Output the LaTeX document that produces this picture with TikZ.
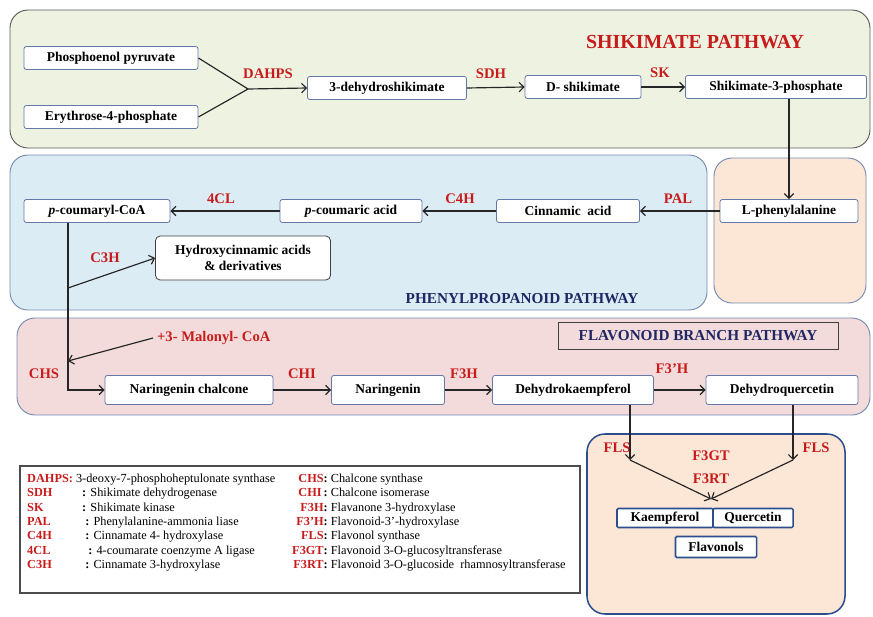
\documentclass[tikz,border=0pt]{standalone}
\usepackage{fontspec}
\setmainfont{Liberation Serif}
\usetikzlibrary{arrows.meta,positioning}
\newlength\pxu
\setlength\pxu{0.03cm}
\definecolor{shikfill}{RGB}{237,242,225}
\definecolor{phenfill}{RGB}{220,236,244}
\definecolor{pheframe}{RGB}{118,138,178}
\definecolor{peach}{RGB}{252,231,215}
\definecolor{flavfill}{RGB}{243,219,219}
\definecolor{enzred}{RGB}{200,28,28}
\definecolor{navy}{RGB}{32,40,100}
\definecolor{boxblue}{RGB}{100,120,170}
\definecolor{deepblue}{RGB}{45,78,140}
\tikzset{
  stepbox/.style={draw=boxblue, fill=white, rounded corners=2pt, line width=0.7pt,
    font=\fontsize{11.5}{13}\selectfont\bfseries, minimum height=23\pxu, inner sep=1pt},
  enz/.style={text=enzred, font=\fontsize{12.5}{14}\selectfont\bfseries},
  panel/.style={rounded corners=18\pxu, line width=0.8pt},
  flow/.style={-{Straight Barb[length=4pt,width=8pt,line width=1pt]}, line width=1pt, black!85},
  title/.style={text=navy, font=\fontsize{13}{15}\selectfont\bfseries},
}

\begin{document}
\begin{tikzpicture}[x=\pxu, y=-\pxu]
      \useasboundingbox (0,0) rectangle (873,616);
      % panels
      \draw[panel, draw=black!65, fill=shikfill] (10,10) rectangle (870,148);
      \draw[panel, draw=pheframe, fill=phenfill] (10,155) rectangle (707,310);
      \draw[panel, draw=pheframe, fill=peach] (714,158) rectangle (866,303);
      \draw[panel, draw=pheframe, fill=flavfill] (17,318) rectangle (870,415);
      \draw[panel, draw=deepblue, line width=1.3pt, fill=peach] (587,434) rectangle (845,614);
      % titles
      \node[text=enzred, font=\fontsize{17}{19}\selectfont\bfseries] (shtitle) at (695,42) {SHIKIMATE PATHWAY};
      \node[title] (phtitle) at (522,299) {PHENYLPROPANOID PATHWAY};
      \node[title, draw=black!75, line width=0.8pt, fill=flavfill, minimum width=280\pxu, minimum height=27\pxu] (fltitle) at (698,336) {FLAVONOID BRANCH PATHWAY};
      % shikimate nodes
      \node[stepbox, minimum width=174\pxu] (pep) at (111,58) {Phosphoenol pyruvate};
      \node[stepbox, minimum width=174\pxu] (e4p) at (111,117) {Erythrose-4-phosphate};
      \node[stepbox, minimum width=159\pxu] (dhs) at (387,88) {3-dehydroshikimate};
      \node[stepbox, minimum width=116\pxu] (dsk) at (583,87) {D- shikimate};
      \node[stepbox, minimum width=181\pxu] (s3p) at (776,87) {Shikimate-3-phosphate};
      \coordinate (jn) at (248,89);
      % phenylpropanoid nodes
      \node[stepbox, minimum width=138\pxu] (lphe) at (789,211) {L-phenylalanine};
      \node[stepbox, minimum width=143\pxu] (cin) at (568,211) {Cinnamic\ \ acid};
      \node[stepbox, minimum width=142\pxu] (pca) at (351,211) {\textit{p}-coumaric acid};
      \node[stepbox, minimum width=146\pxu] (pcoa) at (97,211) {\textit{p}-coumaryl-CoA};
      \node[stepbox, draw=black!75, rounded corners=4pt, align=center, minimum width=175\pxu, minimum height=44\pxu] (hca) at (243,258) {Hydroxycinnamic acids\\\& derivatives};
      \coordinate (cbr) at (68,288);
      % flavonoid nodes
      \node[stepbox, minimum width=168\pxu, minimum height=29\pxu] (nch) at (189,390) {Naringenin chalcone};
      \node[stepbox, minimum width=113\pxu, minimum height=29\pxu] (nar) at (388,390) {Naringenin};
      \node[stepbox, minimum width=161\pxu, minimum height=29\pxu] (dkm) at (573,390) {Dehydrokaempferol};
      \node[stepbox, minimum width=152\pxu, minimum height=29\pxu] (dqc) at (782,390) {Dehydroquercetin};
      \coordinate (cmal) at (68,361);
      \coordinate (cchs) at (68,390);
      \node[enz, anchor=west] (mal) at (153,338) {+3- Malonyl- CoA};
      % flavonols
      \node[stepbox, draw=deepblue, line width=1.3pt, rounded corners=1pt, minimum width=96\pxu, minimum height=19\pxu] (kae) at (665,518) {Kaempferol};
      \node[stepbox, draw=deepblue, line width=1.3pt, rounded corners=1pt, minimum width=80\pxu, minimum height=19\pxu] (que) at (753,518) {Quercetin};
      \node[stepbox, draw=deepblue, line width=1.3pt, rounded corners=1pt, minimum width=81\pxu, minimum height=21\pxu] (fvn) at (716,547) {Flavonols};
      \coordinate (fk) at (630,460);
      \coordinate (fq) at (793,460);
      \coordinate (fl) at (711,499);
      % enzymes
      \node[enz] (dahps) at (268,74) {DAHPS};
      \node[enz] (sdh) at (491,74) {SDH};
      \node[enz] (sk) at (660,73) {SK};
      \node[enz] (pal) at (678,199) {PAL};
      \node[enz] (c4h) at (460,199) {C4H};
      \node[enz] (fcl) at (221,199) {4CL};
      \node[enz] (cth) at (105,258) {C3H};
      \node[enz] (chs) at (44,374) {CHS};
      \node[enz] (chi) at (302,374) {CHI};
      \node[enz] (fth) at (464,374) {F3H};
      \node[enz] (ftph) at (672,369) {F3’H};
      \node[enz] (flsa) at (617,448) {FLS};
      \node[enz] (flsb) at (816,448) {FLS};
      \node[enz] (fgt) at (711,456) {F3GT};
      \node[enz] (frt) at (711,479) {F3RT};
      % edges
      \draw[flow, -] (pep.east) -- (jn);
      \draw[flow, -] (e4p.east) -- (jn);
      \draw[flow] (jn) -- (dhs.west);
      \draw[flow] (dhs.east) -- (dsk.west);
      \draw[flow] (dsk.east) -- (s3p.west);
      \draw[flow] (lphe.north |- s3p.south) -- (lphe.north);
      \draw[flow] (lphe.west) -- (cin.east);
      \draw[flow] (cin.west) -- (pca.east);
      \draw[flow] (pca.west) -- (pcoa.east);
      \draw[flow] (pcoa.south -| cbr) -- (cchs) -- (nch.west);
      \draw[flow] (cbr) -- (hca.west);
      \draw[flow] (mal.west) -- (cmal);
      \draw[flow] (nch.east) -- (nar.west);
      \draw[flow] (nar.east) -- (dkm.west);
      \draw[flow] (dkm.east) -- (dqc.west);
      \draw[flow] (dkm.south -| fk) -- (fk);
      \draw[flow] (dqc.south -| fq) -- (fq);
      \draw[flow] (fk) -- (fl);
      \draw[flow] (fq) -- (fl);
      % legend
      \draw[black!70, line width=1.2pt] (20,466) rectangle (580,593);
      \node[anchor=north west, inner sep=0pt, font=\fontsize{10.5}{12.3}\selectfont] (legl) at (27,472) {%
        \begin{tabular}{@{}l@{\ }l@{}}
        \textcolor{enzred}{\textbf{DAHPS:}} & 3-deoxy-7-phosphoheptulonate synthase\\
        \textcolor{enzred}{\textbf{SDH}} & \ \ \textbf{:} Shikimate dehydrogenase\\
        \textcolor{enzred}{\textbf{SK}} & \ \ \textbf{:} Shikimate kinase\\
        \textcolor{enzred}{\textbf{PAL}} & \ \ \ \textbf{:} Phenylalanine-ammonia liase\\
        \textcolor{enzred}{\textbf{C4H}} & \ \ \ \textbf{:} Cinnamate 4- hydroxylase\\
        \textcolor{enzred}{\textbf{4CL}} & \ \ \ \ \textbf{:} 4-coumarate coenzyme A ligase\\
        \textcolor{enzred}{\textbf{C3H}} & \ \ \ \textbf{:} Cinnamate 3-hydroxylase
        \end{tabular}};
      \node[anchor=north west, inner sep=0pt, font=\fontsize{10.5}{12.3}\selectfont] (legr) at (292,472) {%
        \begin{tabular}{@{}r@{\ }l@{}}
        \textcolor{enzred}{\textbf{CHS}}\textbf{:} & Chalcone synthase\\
        \textcolor{enzred}{\textbf{CHI}}\textbf{\,:} & Chalcone isomerase\\
        \textcolor{enzred}{\textbf{F3H}}\textbf{:} & Flavanone 3-hydroxylase\\
        \textcolor{enzred}{\textbf{F3’H}}\textbf{:} & Flavonoid-3’-hydroxylase\\
        \textcolor{enzred}{\textbf{FLS}}\textbf{:} & Flavonol synthase\\
        \textcolor{enzred}{\textbf{F3GT}}\textbf{:} & Flavonoid 3-O-glucosyltransferase\\
        \textcolor{enzred}{\textbf{F3RT}}\textbf{:} & Flavonoid 3-O-glucoside\ \ rhamnosyltransferase
        \end{tabular}};
\end{tikzpicture}
\end{document}
